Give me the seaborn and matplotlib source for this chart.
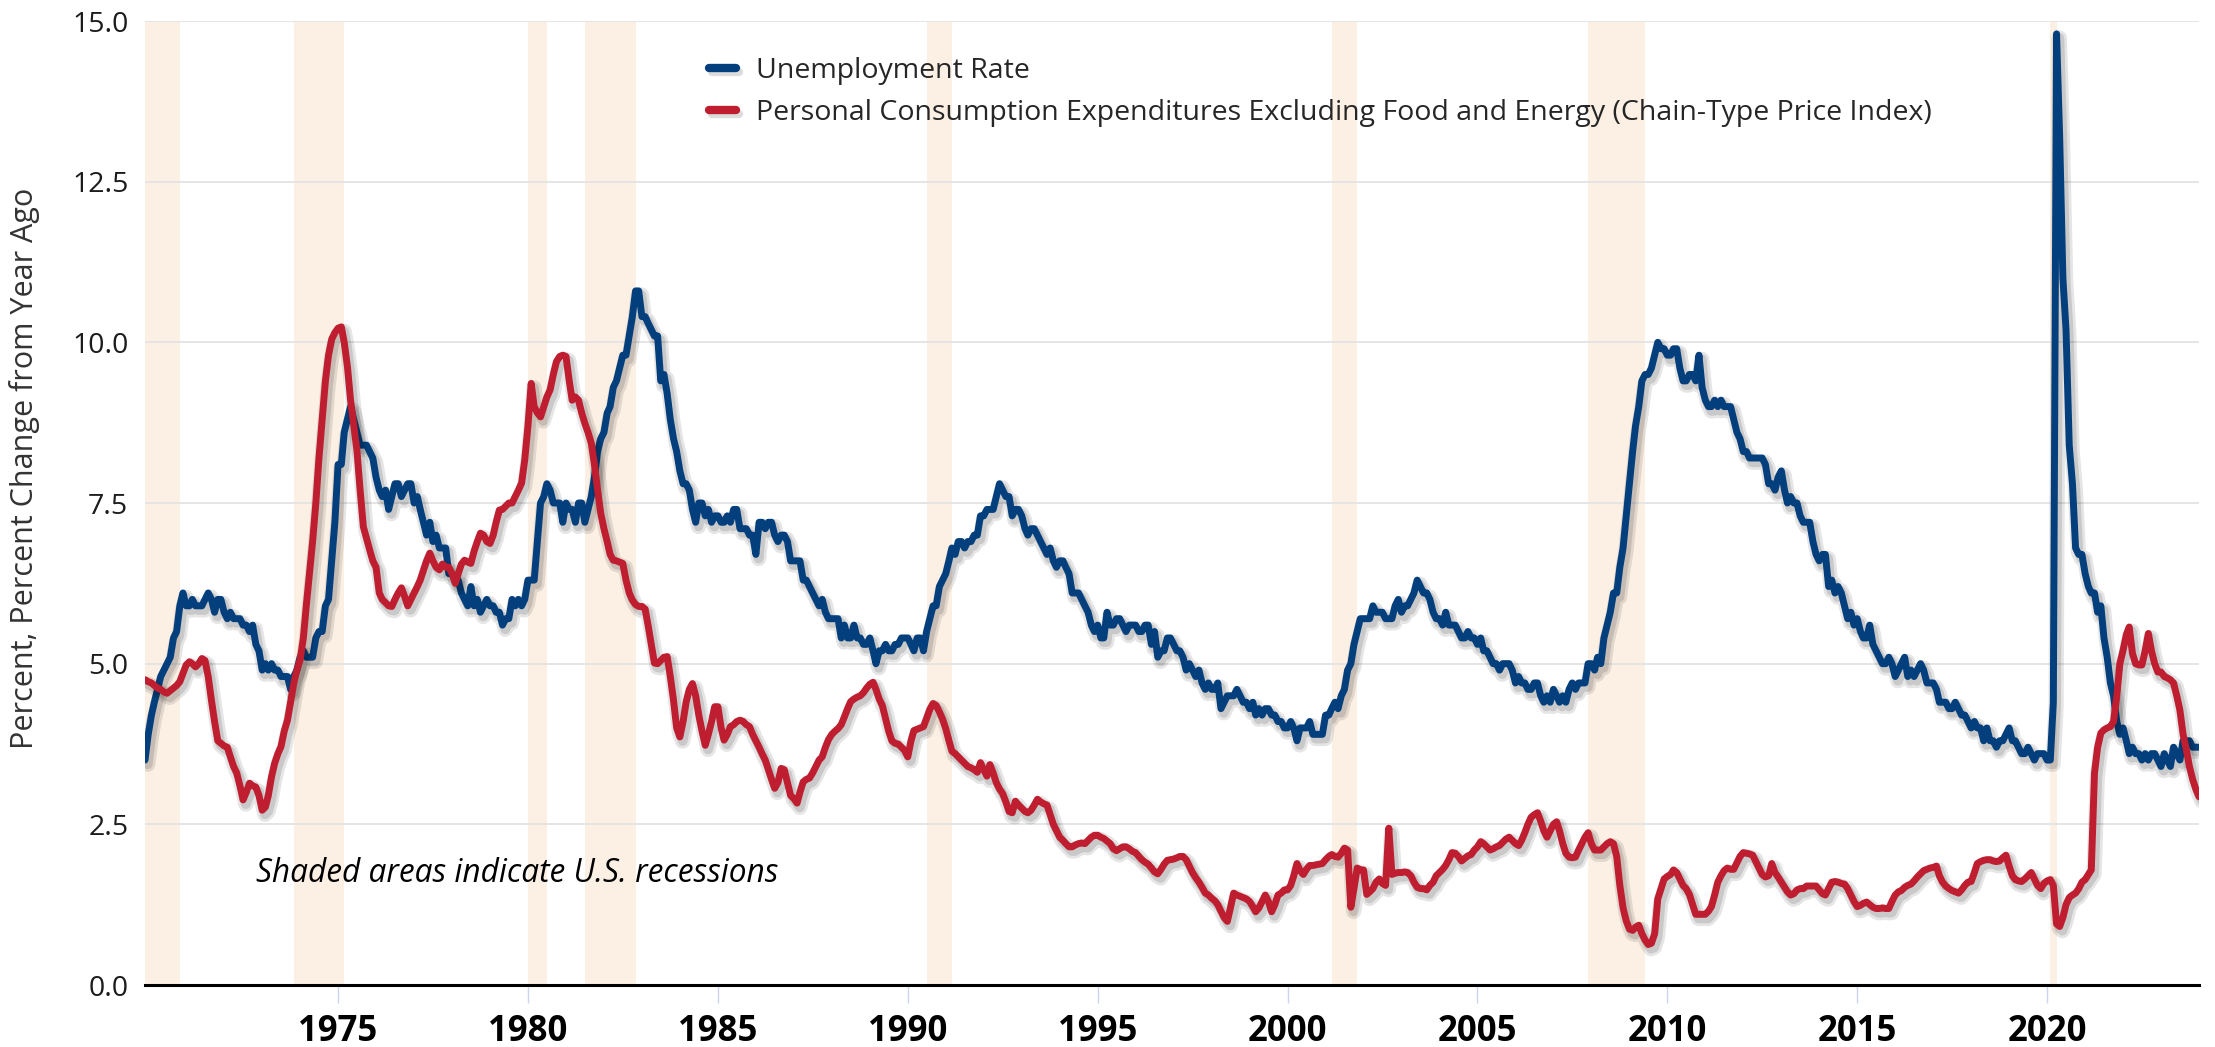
import pandas as pd
import matplotlib.pyplot as plt
import matplotlib.patheffects as pe
from matplotlib.lines import Line2D
import seaborn as sns

# Monthly data, Dec 1969 .. Jan 2024
first_month = "1969-12-01"

unrate = [
    3.5,
    3.9, 4.2, 4.4, 4.6, 4.8, 4.9, 5.0, 5.1, 5.4, 5.5, 5.9, 6.1,
    5.9, 5.9, 6.0, 5.9, 5.9, 5.9, 6.0, 6.1, 6.0, 5.8, 6.0, 6.0,
    5.8, 5.7, 5.8, 5.7, 5.7, 5.7, 5.6, 5.6, 5.5, 5.6, 5.3, 5.2,
    4.9, 5.0, 4.9, 5.0, 4.9, 4.9, 4.8, 4.8, 4.8, 4.6, 4.8, 4.9,
    5.1, 5.2, 5.1, 5.1, 5.1, 5.4, 5.5, 5.5, 5.9, 6.0, 6.6, 7.2,
    8.1, 8.1, 8.6, 8.8, 9.0, 8.8, 8.6, 8.4, 8.4, 8.4, 8.3, 8.2,
    7.9, 7.7, 7.6, 7.7, 7.4, 7.6, 7.8, 7.8, 7.6, 7.7, 7.8, 7.8,
    7.5, 7.6, 7.4, 7.2, 7.0, 7.2, 6.9, 7.0, 6.8, 6.8, 6.8, 6.4,
    6.4, 6.3, 6.3, 6.1, 6.0, 5.9, 6.2, 5.9, 6.0, 5.8, 5.9, 6.0,
    5.9, 5.9, 5.8, 5.8, 5.6, 5.7, 5.7, 6.0, 5.9, 6.0, 5.9, 6.0,
    6.3, 6.3, 6.3, 6.9, 7.5, 7.6, 7.8, 7.7, 7.5, 7.5, 7.5, 7.2,
    7.5, 7.4, 7.4, 7.2, 7.5, 7.5, 7.2, 7.4, 7.6, 7.9, 8.3, 8.5,
    8.6, 8.9, 9.0, 9.3, 9.4, 9.6, 9.8, 9.8, 10.1, 10.4, 10.8, 10.8,
    10.4, 10.4, 10.3, 10.2, 10.1, 10.1, 9.4, 9.5, 9.2, 8.8, 8.5, 8.3,
    8.0, 7.8, 7.8, 7.7, 7.4, 7.2, 7.5, 7.5, 7.3, 7.4, 7.2, 7.3,
    7.3, 7.2, 7.2, 7.3, 7.2, 7.4, 7.4, 7.1, 7.1, 7.1, 7.0, 7.0,
    6.7, 7.2, 7.2, 7.1, 7.2, 7.2, 7.0, 6.9, 7.0, 7.0, 6.9, 6.6,
    6.6, 6.6, 6.6, 6.3, 6.3, 6.2, 6.1, 6.0, 5.9, 6.0, 5.8, 5.7,
    5.7, 5.7, 5.7, 5.4, 5.6, 5.4, 5.4, 5.6, 5.4, 5.4, 5.3, 5.3,
    5.4, 5.2, 5.0, 5.2, 5.2, 5.3, 5.2, 5.2, 5.3, 5.3, 5.4, 5.4,
    5.4, 5.3, 5.2, 5.4, 5.4, 5.2, 5.5, 5.7, 5.9, 5.9, 6.2, 6.3,
    6.4, 6.6, 6.8, 6.7, 6.9, 6.9, 6.8, 6.9, 6.9, 7.0, 7.0, 7.3,
    7.3, 7.4, 7.4, 7.4, 7.6, 7.8, 7.7, 7.6, 7.6, 7.3, 7.4, 7.4,
    7.3, 7.1, 7.0, 7.1, 7.1, 7.0, 6.9, 6.8, 6.7, 6.8, 6.6, 6.5,
    6.6, 6.6, 6.5, 6.4, 6.1, 6.1, 6.1, 6.0, 5.9, 5.8, 5.6, 5.5,
    5.6, 5.4, 5.4, 5.8, 5.6, 5.6, 5.7, 5.7, 5.6, 5.5, 5.6, 5.6,
    5.6, 5.5, 5.5, 5.6, 5.6, 5.3, 5.5, 5.1, 5.2, 5.2, 5.4, 5.4,
    5.3, 5.2, 5.2, 5.1, 4.9, 5.0, 4.9, 4.8, 4.9, 4.7, 4.6, 4.7,
    4.6, 4.6, 4.7, 4.3, 4.4, 4.5, 4.5, 4.5, 4.6, 4.5, 4.4, 4.4,
    4.3, 4.4, 4.2, 4.3, 4.2, 4.3, 4.3, 4.2, 4.2, 4.1, 4.1, 4.0,
    4.0, 4.1, 4.0, 3.8, 4.0, 4.0, 4.0, 4.1, 3.9, 3.9, 3.9, 3.9,
    4.2, 4.2, 4.3, 4.4, 4.3, 4.5, 4.6, 4.9, 5.0, 5.3, 5.5, 5.7,
    5.7, 5.7, 5.7, 5.9, 5.8, 5.8, 5.8, 5.7, 5.7, 5.7, 5.9, 6.0,
    5.8, 5.9, 5.9, 6.0, 6.1, 6.3, 6.2, 6.1, 6.1, 6.0, 5.8, 5.7,
    5.7, 5.6, 5.8, 5.6, 5.6, 5.6, 5.5, 5.4, 5.4, 5.5, 5.4, 5.4,
    5.3, 5.4, 5.2, 5.2, 5.1, 5.0, 5.0, 4.9, 5.0, 5.0, 5.0, 4.9,
    4.7, 4.8, 4.7, 4.7, 4.6, 4.6, 4.7, 4.7, 4.5, 4.4, 4.5, 4.4,
    4.6, 4.5, 4.4, 4.5, 4.4, 4.6, 4.7, 4.6, 4.7, 4.7, 4.7, 5.0,
    5.0, 4.9, 5.1, 5.0, 5.4, 5.6, 5.8, 6.1, 6.1, 6.5, 6.8, 7.3,
    7.8, 8.3, 8.7, 9.0, 9.4, 9.5, 9.5, 9.6, 9.8, 10.0, 9.9, 9.9,
    9.8, 9.8, 9.9, 9.9, 9.6, 9.4, 9.4, 9.5, 9.5, 9.4, 9.8, 9.3,
    9.1, 9.0, 9.0, 9.1, 9.0, 9.1, 9.0, 9.0, 9.0, 8.8, 8.6, 8.5,
    8.3, 8.3, 8.2, 8.2, 8.2, 8.2, 8.2, 8.1, 7.8, 7.8, 7.7, 7.9,
    8.0, 7.7, 7.5, 7.6, 7.5, 7.5, 7.3, 7.2, 7.2, 7.2, 6.9, 6.7,
    6.6, 6.7, 6.7, 6.2, 6.3, 6.1, 6.2, 6.1, 5.9, 5.7, 5.8, 5.6,
    5.7, 5.5, 5.4, 5.4, 5.6, 5.3, 5.2, 5.1, 5.0, 5.0, 5.1, 5.0,
    4.8, 4.9, 5.0, 5.1, 4.8, 4.9, 4.8, 4.9, 5.0, 4.9, 4.7, 4.7,
    4.7, 4.6, 4.4, 4.4, 4.4, 4.3, 4.3, 4.4, 4.3, 4.2, 4.2, 4.1,
    4.0, 4.1, 4.0, 4.0, 3.8, 4.0, 3.8, 3.8, 3.7, 3.8, 3.8, 3.9,
    4.0, 3.8, 3.8, 3.7, 3.6, 3.6, 3.7, 3.6, 3.5, 3.6, 3.6, 3.6,
    3.5, 3.5, 4.4, 14.8, 13.2, 11.0, 10.2, 8.4, 7.8, 6.8, 6.7, 6.7,
    6.4, 6.2, 6.1, 6.1, 5.8, 5.9, 5.4, 5.1, 4.7, 4.5, 4.1, 3.9,
    4.0, 3.8, 3.6, 3.7, 3.6, 3.6, 3.5, 3.6, 3.5, 3.6, 3.6, 3.5,
    3.4, 3.6, 3.5, 3.4, 3.7, 3.6, 3.5, 3.8, 3.8, 3.8, 3.7, 3.7,
    3.7,
]

core_pce = [
    4.75,
    4.72, 4.70, 4.66, 4.62, 4.60, 4.56, 4.54, 4.58, 4.62, 4.66, 4.72, 4.85,
    4.98, 5.03, 5.00, 4.95, 5.00, 5.08, 5.05, 4.80, 4.43, 4.10, 3.80, 3.76,
    3.72, 3.70, 3.55, 3.40, 3.30, 3.10, 2.88, 3.00, 3.14, 3.10, 3.08, 2.95,
    2.72, 2.77, 2.95, 3.24, 3.45, 3.60, 3.71, 3.95, 4.12, 4.40, 4.70, 4.90,
    5.06, 5.40, 5.90, 6.40, 6.90, 7.50, 8.20, 8.80, 9.40, 9.80, 10.05, 10.15,
    10.22, 10.24, 10.00, 9.62, 9.10, 8.70, 8.32, 7.70, 7.13, 6.95, 6.77, 6.60,
    6.50, 6.10, 6.00, 5.95, 5.90, 5.89, 6.00, 6.10, 6.18, 6.05, 5.90, 6.00,
    6.10, 6.20, 6.30, 6.45, 6.60, 6.72, 6.60, 6.50, 6.46, 6.55, 6.50, 6.50,
    6.40, 6.25, 6.40, 6.55, 6.61, 6.58, 6.56, 6.75, 6.90, 7.03, 7.00, 6.90,
    6.87, 7.00, 7.20, 7.39, 7.40, 7.45, 7.50, 7.50, 7.60, 7.70, 7.81, 8.17,
    8.70, 9.36, 9.00, 8.90, 8.84, 9.00, 9.15, 9.26, 9.50, 9.70, 9.78, 9.80,
    9.78, 9.40, 9.10, 9.15, 9.10, 8.90, 8.74, 8.60, 8.43, 8.10, 7.70, 7.34,
    7.10, 6.90, 6.70, 6.61, 6.60, 6.58, 6.56, 6.30, 6.10, 5.99, 5.92, 5.89,
    5.89, 5.85, 5.60, 5.30, 5.01, 5.00, 5.05, 5.10, 5.11, 4.80, 4.43, 4.00,
    3.86, 4.10, 4.40, 4.60, 4.69, 4.50, 4.20, 3.95, 3.73, 3.90, 4.10, 4.33,
    4.33, 4.00, 3.81, 3.90, 4.02, 4.05, 4.10, 4.12, 4.10, 4.05, 4.02, 3.90,
    3.80, 3.70, 3.60, 3.50, 3.35, 3.20, 3.06, 3.15, 3.37, 3.35, 3.15, 2.95,
    2.90, 2.83, 3.00, 3.16, 3.20, 3.22, 3.30, 3.40, 3.50, 3.55, 3.70, 3.82,
    3.90, 3.95, 3.99, 4.05, 4.17, 4.30, 4.41, 4.45, 4.48, 4.50, 4.55, 4.62,
    4.68, 4.71, 4.60, 4.45, 4.35, 4.15, 3.95, 3.80, 3.76, 3.75, 3.70, 3.65,
    3.55, 3.80, 3.96, 3.98, 4.00, 4.02, 4.15, 4.29, 4.38, 4.35, 4.25, 4.14,
    3.99, 3.80, 3.64, 3.60, 3.55, 3.50, 3.45, 3.40, 3.38, 3.35, 3.31, 3.46,
    3.35, 3.25, 3.43, 3.30, 3.15, 3.05, 2.98, 2.85, 2.70, 2.68, 2.86, 2.80,
    2.75, 2.70, 2.68, 2.72, 2.80, 2.89, 2.85, 2.82, 2.80, 2.65, 2.50, 2.40,
    2.30, 2.25, 2.20, 2.15, 2.15, 2.18, 2.20, 2.21, 2.20, 2.25, 2.30, 2.33,
    2.33, 2.30, 2.28, 2.24, 2.20, 2.12, 2.09, 2.12, 2.15, 2.15, 2.12, 2.08,
    2.06, 2.00, 1.95, 1.91, 1.88, 1.82, 1.76, 1.73, 1.80, 1.88, 1.94, 1.95,
    1.96, 1.98, 2.00, 2.00, 1.95, 1.85, 1.75, 1.67, 1.60, 1.52, 1.43, 1.40,
    1.35, 1.31, 1.25, 1.15, 1.05, 0.99, 1.20, 1.43, 1.40, 1.38, 1.36, 1.34,
    1.30, 1.22, 1.14, 1.20, 1.30, 1.40, 1.30, 1.14, 1.25, 1.40, 1.43, 1.48,
    1.48, 1.55, 1.70, 1.89, 1.78, 1.72, 1.80, 1.86, 1.86, 1.87, 1.88, 1.89,
    1.95, 2.00, 2.03, 2.00, 1.99, 2.05, 2.13, 2.10, 1.21, 1.50, 1.82, 1.79,
    1.79, 1.41, 1.45, 1.50, 1.60, 1.65, 1.58, 1.55, 2.44, 1.72, 1.74, 1.75,
    1.75, 1.76, 1.75, 1.70, 1.60, 1.52, 1.50, 1.50, 1.48, 1.55, 1.60, 1.70,
    1.75, 1.80, 1.86, 1.95, 2.06, 2.05, 2.00, 1.93, 1.97, 2.01, 2.03, 2.10,
    2.15, 2.23, 2.20, 2.15, 2.10, 2.12, 2.15, 2.17, 2.22, 2.27, 2.30, 2.25,
    2.20, 2.17, 2.25, 2.37, 2.50, 2.61, 2.65, 2.68, 2.55, 2.40, 2.30, 2.40,
    2.50, 2.54, 2.40, 2.20, 2.05, 1.99, 1.98, 1.99, 2.10, 2.20, 2.30, 2.37,
    2.20, 2.10, 2.10, 2.10, 2.15, 2.20, 2.23, 2.20, 2.00, 1.55, 1.20, 1.00,
    0.87, 0.85, 0.90, 0.93, 0.80, 0.70, 0.63, 0.65, 0.80, 1.34, 1.50, 1.65,
    1.69, 1.72, 1.79, 1.75, 1.65, 1.55, 1.50, 1.41, 1.25, 1.10, 1.10, 1.10,
    1.10, 1.15, 1.22, 1.40, 1.60, 1.70, 1.78, 1.82, 1.80, 1.80, 1.90, 2.00,
    2.06, 2.05, 2.04, 2.02, 1.92, 1.82, 1.72, 1.68, 1.70, 1.89, 1.75, 1.68,
    1.60, 1.52, 1.45, 1.40, 1.42, 1.48, 1.50, 1.50, 1.54, 1.54, 1.54, 1.54,
    1.48, 1.42, 1.40, 1.50, 1.60, 1.61, 1.60, 1.58, 1.57, 1.50, 1.40, 1.30,
    1.22, 1.24, 1.27, 1.29, 1.25, 1.21, 1.19, 1.19, 1.20, 1.19, 1.19, 1.30,
    1.40, 1.45, 1.47, 1.52, 1.55, 1.57, 1.62, 1.68, 1.73, 1.78, 1.80, 1.82,
    1.83, 1.85, 1.70, 1.60, 1.54, 1.50, 1.47, 1.45, 1.43, 1.48, 1.55, 1.60,
    1.61, 1.75, 1.89, 1.92, 1.94, 1.95, 1.95, 1.93, 1.92, 1.93, 1.98, 2.02,
    1.85, 1.70, 1.64, 1.62, 1.61, 1.65, 1.70, 1.75, 1.65, 1.55, 1.50, 1.58,
    1.62, 1.64, 1.55, 0.95, 0.91, 1.05, 1.25, 1.36, 1.40, 1.43, 1.50, 1.60,
    1.64, 1.72, 1.79, 3.30, 3.70, 3.92, 3.97, 4.00, 4.02, 4.10, 4.49, 5.00,
    5.21, 5.45, 5.57, 5.16, 5.00, 4.98, 4.98, 5.20, 5.47, 5.20, 5.00, 4.87,
    4.87, 4.80, 4.78, 4.75, 4.70, 4.50, 4.28, 3.90, 3.66, 3.40, 3.20, 3.05,
    2.93,
]

recession_start = ["1969-12-01", "1973-11-01", "1980-01-01", "1981-07-01",
                   "1990-07-01", "2001-03-01", "2007-12-01", "2020-02-01"]
recession_end = ["1970-11-01", "1975-03-01", "1980-07-01", "1982-11-01",
                 "1991-03-01", "2001-11-01", "2009-06-01", "2020-04-01"]

tick_years = [1975, 1980, 1985, 1990, 1995, 2000, 2005, 2010, 2015, 2020]
y_ticks = [0.0, 2.5, 5.0, 7.5, 10.0, 12.5, 15.0]

label_unrate = "Unemployment Rate"
label_pce = "Personal Consumption Expenditures Excluding Food and Energy (Chain-Type Price Index)"

blue = "#033f7c"
red = "#be1e2f"
shade = "#fcf0e4"

df = pd.DataFrame({
    "date": pd.date_range(first_month, periods=len(unrate), freq="MS"),
    "unrate": unrate,
    "core_pce": core_pce,
})

sns.set_theme(style="white")
plt.rcParams["font.family"] = ["Open Sans", "DejaVu Sans"]

fig = plt.figure(figsize=(22.15, 10.47), dpi=100)
ax = fig.add_axes([145 / 2215, 1 - 985 / 1047, 2054 / 2215, 964 / 1047])

# recession shading
for s, e in zip(recession_start, recession_end):
    ax.axvspan(pd.Timestamp(s), pd.Timestamp(e), color=shade, lw=0, zorder=0.2)

shadow = [pe.SimpleLineShadow(offset=(2, -3), shadow_color="black", alpha=0.10, linewidth=11),
          pe.SimpleLineShadow(offset=(2, -3), shadow_color="black", alpha=0.12, linewidth=7),
          pe.Normal()]

sns.lineplot(data=df, x="date", y="unrate", ax=ax, color=blue, linewidth=5,
             solid_joinstyle="round", solid_capstyle="round", legend=False,
             path_effects=shadow, zorder=3)
sns.lineplot(data=df, x="date", y="core_pce", ax=ax, color=red, linewidth=5,
             solid_joinstyle="round", solid_capstyle="round", legend=False,
             path_effects=shadow, zorder=4)

ax.set_xlim(df["date"].iloc[0], df["date"].iloc[-1])
ax.set_ylim(0, 15)
ax.set_xlabel("")
ax.set_ylabel("")

ax.set_yticks(y_ticks)
ax.set_yticklabels([f"{v:.1f}" for v in y_ticks])
ax.set_xticks([pd.Timestamp(f"{y}-01-01") for y in tick_years])
ax.set_xticklabels([str(y) for y in tick_years], fontweight="bold")

ax.grid(axis="y", color="#e3e3e3", linewidth=1.3)
ax.grid(axis="x", visible=False)
ax.set_axisbelow(True)
for side in ["top", "right", "left"]:
    ax.spines[side].set_visible(False)
ax.spines["bottom"].set_color("black")
ax.spines["bottom"].set_linewidth(2.2)
ax.spines["bottom"].set_zorder(5)

ax.tick_params(axis="x", length=13, width=1, color="#ccd6eb", pad=8,
               labelsize=25, labelcolor="black", bottom=True)
ax.tick_params(axis="y", length=0, pad=12, labelsize=20.5, labelcolor="#1c1c1c")

fig.text(25 / 2215, 1 - 468 / 1047, "Percent, Percent Change from Year Ago",
         rotation=90, ha="center", va="center", fontsize=22, color="#333333")

fig.text(256 / 2215, 1 - 874 / 1047, "Shaded areas indicate U.S. recessions",
         ha="left", va="center", fontsize=22.8, style="italic", color="black")

handles = [
    Line2D([0], [0], color=blue, lw=6, solid_capstyle="round",
           path_effects=[pe.SimpleLineShadow(offset=(2, -3), alpha=0.15), pe.Normal()]),
    Line2D([0], [0], color=red, lw=6, solid_capstyle="round",
           path_effects=[pe.SimpleLineShadow(offset=(2, -3), alpha=0.15), pe.Normal()]),
]
fig.legend(handles, [label_unrate, label_pce], loc="upper left",
           bbox_to_anchor=(709 / 2215, 1 - 57 / 1047), frameon=False,
           fontsize=20.5, handlelength=0.95, handletextpad=0.7,
           labelspacing=0.5, borderaxespad=0, borderpad=0)

fig.savefig("out.png", dpi=100)
